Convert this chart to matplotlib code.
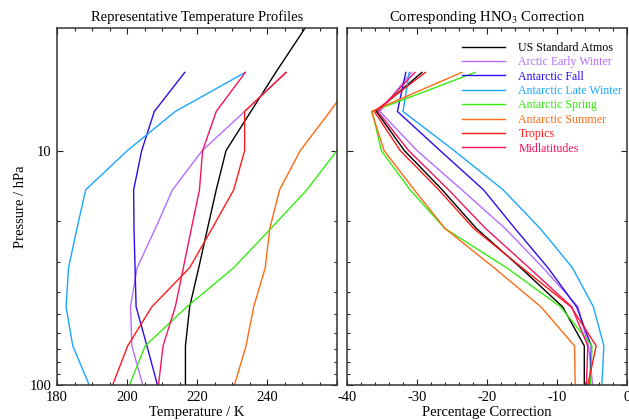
import numpy as np
import matplotlib
matplotlib.use('Agg')
import matplotlib.pyplot as plt
from matplotlib.ticker import FixedLocator, NullFormatter

plt.rcParams['font.family'] = ['Liberation Serif', 'DejaVu Serif']
plt.rcParams['mathtext.fontset'] = 'stix'
plt.rcParams['axes.unicode_minus'] = False

# pressure levels (hPa), bottom to top
pressure = [100.0, 68.1, 46.4, 31.6, 21.5, 14.7, 10.0, 6.81, 4.64, 3.16, 2.15]

names = ['US Standard Atmos', 'Arctic Early Winter', 'Antarctic Fall',
         'Antarctic Late Winter', 'Antarctic Spring', 'Antarctic Summer',
         'Tropics', 'Midlatitudes']
colors = ['#000000', '#b46eff', '#2c0cec', '#1aa6ff', '#36ec10', '#ff6a14',
          '#ff1a1a', '#f5145c']

nan = np.nan
# temperature profiles / K
temp_us = [216.7, 216.7, 217.9, 220.5, 223.0, 225.5, 228.3, 235.4, 242.5, 249.9, 257.1]
temp_arctic_ew = [204.5, 201.4, 201.0, 202.9, 208.1, 213.0, 221.5, 233.6, 245.3, nan, nan]
temp_ant_fall = [208.7, 205.7, 202.6, 202.3, 202.0, 201.9, 204.2, 207.8, 216.5, nan, nan]
temp_ant_lw = [189.2, 184.5, 182.6, 183.3, 185.7, 188.2, 200.1, 213.8, 233.8, nan, nan]
temp_ant_spring = [200.7, 205.2, 217.1, 230.5, 241.1, 251.4, 260.0, 268.0, 276.0, nan, nan]
temp_ant_summer = [230.7, 234.0, 236.2, 239.5, 240.8, 243.6, 249.5, 258.0, 266.0, nan, nan]
temp_tropics = [195.9, 200.2, 207.1, 217.9, 224.3, 230.5, 233.6, 233.6, 245.5, nan, nan]
temp_midlat = [209.0, 210.3, 213.8, 216.1, 218.4, 220.7, 221.6, 225.5, 233.8, nan, nan]

# HNO3 correction / %
corr_us = [-6.1, -6.1, -9.2, -15.2, -21.5, -26.4, -31.8, -35.8, -29.3, nan, nan]
corr_arctic_ew = [-4.9, -5.5, -7.0, -12.0, -17.4, -23.6, -30.0, -35.3, -30.8, nan, nan]
corr_ant_fall = [-5.3, -5.1, -7.2, -11.3, -16.0, -20.5, -26.7, -32.8, -31.6, nan, nan]
corr_ant_lw = [-3.6, -3.3, -4.8, -7.8, -12.4, -17.7, -24.7, -32.0, -31.1, nan, nan]
corr_ant_spring = [-5.2, -5.0, -9.5, -17.2, -26.0, -31.0, -35.1, -36.4, -21.7, nan, nan]
corr_ant_summer = [-7.4, -7.5, -12.3, -19.0, -26.0, -30.4, -34.7, -36.5, -23.6, nan, nan]
corr_tropics = [-5.6, -4.4, -8.0, -15.0, -21.9, -26.9, -32.4, -36.1, -28.8, nan, nan]
corr_midlat = [-5.8, -5.6, -7.9, -14.0, -20.2, -25.5, -31.2, -35.6, -30.3, nan, nan]

temps = [temp_us, temp_arctic_ew, temp_ant_fall, temp_ant_lw,
         temp_ant_spring, temp_ant_summer, temp_tropics, temp_midlat]
corrs = [corr_us, corr_arctic_ew, corr_ant_fall, corr_ant_lw,
         corr_ant_spring, corr_ant_summer, corr_tropics, corr_midlat]

fig = plt.figure(figsize=(6.29, 4.2), dpi=100)
ax1 = fig.add_axes([57 / 629, 35 / 420, 280 / 629, 357 / 420])
ax2 = fig.add_axes([347 / 629, 35 / 420, 280 / 629, 357 / 420])

for t, c, col, name in zip(temps, corrs, colors, names):
    ax1.plot(t, pressure, color=col, lw=1.0)
    ax2.plot(c, pressure, color=col, lw=1.0, label=name)


def style(ax):
    ax.set_yscale('log')
    ax.set_ylim(100, 3.0)
    ax.yaxis.set_major_locator(FixedLocator([10, 100]))
    ax.yaxis.set_minor_locator(FixedLocator([20, 30, 40, 50, 60, 70, 80, 90]))
    ax.yaxis.set_minor_formatter(NullFormatter())
    ax.tick_params(which='both', direction='in', top=True, right=True,
                   labelsize=10.5, width=0.8, color='#222222')
    ax.tick_params(which='major', length=4, pad=4)
    ax.tick_params(which='minor', length=2.5)
    for s in ax.spines.values():
        s.set_linewidth(1.1)
        s.set_color('#333333')


style(ax1)
ax1.set_xlim(180, 260)
ax1.set_xticks([180, 200, 220, 240, 260])
ax1.set_xticklabels(['180', '200', '220', '240', ''])
ax1.xaxis.set_minor_locator(FixedLocator(np.arange(180, 261, 5)))
ax1.set_yticklabels(['10', '100'])
ax1.set_xlabel('Temperature / K', fontsize=10.5, labelpad=2)
ax1.set_ylabel('Pressure / hPa', fontsize=10.5, labelpad=2)
ax1.set_title('Representative Temperature Profiles', fontsize=10.5, pad=5)

style(ax2)
ax2.set_xlim(-40, 0)
ax2.set_xticks([-40, -30, -20, -10, 0])
ax2.xaxis.set_minor_locator(FixedLocator(np.arange(-40, 1, 2)))
ax2.set_yticklabels([])
ax2.set_xlabel('Percentage Correction', fontsize=10.5, labelpad=2)
ax2.set_title('Corresponding HNO$_3$ Correction', fontsize=10.5, pad=5)

leg = ax2.legend(loc='upper left', bbox_to_anchor=(0.39, 0.978), frameon=False,
                 fontsize=8.6, handlelength=3.6, handletextpad=1.1,
                 labelspacing=0.2, borderpad=0, labelcolor='linecolor')

fig.savefig('out.png', dpi=100)
